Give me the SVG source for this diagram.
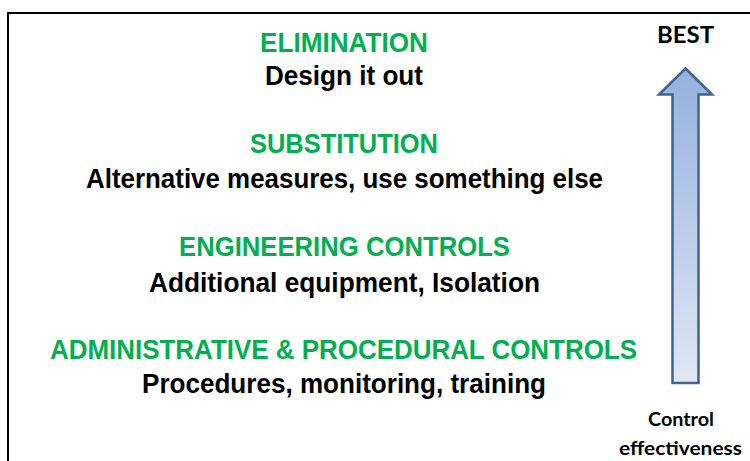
<svg xmlns="http://www.w3.org/2000/svg" width="750" height="461" viewBox="0 0 750 461">
  <style>
    .head { font-family: "Liberation Sans", Arial, sans-serif; font-weight: bold; font-size: 27px; fill: #00b050; text-anchor: middle; }
    .desc { font-family: "Liberation Sans", Arial, sans-serif; font-weight: bold; font-size: 27px; fill: #000000; text-anchor: middle; }
    .side { font-family: Lato, "Open Sans", sans-serif; font-weight: bold; fill: #000000; text-anchor: middle; }
  </style>
  <defs>
    <linearGradient id="shaftFill" x1="0" y1="0" x2="0" y2="1">
      <stop offset="0" stop-color="#95b1df"/>
      <stop offset="1" stop-color="#e0e7f4"/>
    </linearGradient>
  </defs>
  <rect width="750" height="461" fill="#ffffff"/>

  <!-- frame: top and left edges only -->
  <path d="M8 461 V13 H750" fill="none" stroke="#000000" stroke-width="2"/>

  <g id="elimination">
    <text class="head" x="344" y="52" textLength="168" lengthAdjust="spacingAndGlyphs">ELIMINATION</text>
    <text class="desc" x="344" y="84.5" textLength="158" lengthAdjust="spacingAndGlyphs">Design it out</text>
  </g>
  <g id="substitution">
    <text class="head" x="344" y="153" textLength="188" lengthAdjust="spacingAndGlyphs">SUBSTITUTION</text>
    <text class="desc" x="344.5" y="188" textLength="517" lengthAdjust="spacingAndGlyphs">Alternative measures, use something else</text>
  </g>
  <g id="engineering">
    <text class="head" x="344.5" y="256" textLength="331" lengthAdjust="spacingAndGlyphs">ENGINEERING CONTROLS</text>
    <text class="desc" x="344.5" y="292" textLength="391" lengthAdjust="spacingAndGlyphs">Additional equipment, Isolation</text>
  </g>
  <g id="administrative">
    <text class="head" x="343.5" y="359" textLength="587" lengthAdjust="spacingAndGlyphs">ADMINISTRATIVE &amp; PROCEDURAL CONTROLS</text>
    <text class="desc" x="344" y="393" textLength="404" lengthAdjust="spacingAndGlyphs">Procedures, monitoring, training</text>
  </g>

  <g id="effectiveness-scale">
    <text class="side" x="685.5" y="43" font-size="22" textLength="57" lengthAdjust="spacingAndGlyphs">BEST</text>
    <path d="M685.5 68.5 L712 94.5 H698.5 V383 H672.5 V94.5 H659 Z" fill="url(#shaftFill)" stroke="#41638f" stroke-width="2.5" stroke-linejoin="miter"/>
    <text class="side" x="681" y="426" font-size="18.5" textLength="66" lengthAdjust="spacingAndGlyphs">Control</text>
    <text class="side" x="680.5" y="455" font-size="18.5" textLength="123" lengthAdjust="spacingAndGlyphs">effectiveness</text>
  </g>
</svg>
